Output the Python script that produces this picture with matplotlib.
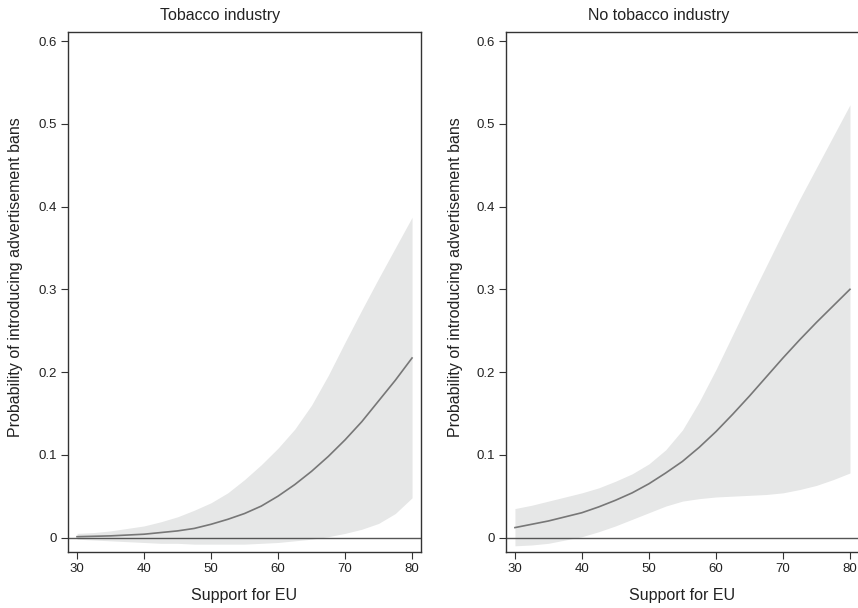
import matplotlib.pyplot as plt

plt.rcParams["font.family"] = ["Liberation Sans", "DejaVu Sans"]

# Support for EU (x values)
support = [30, 32.5, 35, 37.5, 40, 42.5, 45, 47.5, 50, 52.5, 55,
           57.5, 60, 62.5, 65, 67.5, 70, 72.5, 75, 77.5, 80]

# Panel 1: tobacco industry
tob_fit = [0.001, 0.0015, 0.002, 0.003, 0.004, 0.006, 0.008, 0.011, 0.016, 0.022, 0.029,
           0.038, 0.050, 0.064, 0.080, 0.098, 0.118, 0.140, 0.165, 0.190, 0.217]
tob_upper = [0.005, 0.006, 0.008, 0.011, 0.014, 0.019, 0.025, 0.033, 0.042, 0.054, 0.070,
             0.088, 0.108, 0.131, 0.160, 0.196, 0.236, 0.275, 0.313, 0.350, 0.387]
tob_lower = [-0.002, -0.003, -0.004, -0.005, -0.006, -0.007, -0.007, -0.008, -0.008, -0.008, -0.008,
             -0.007, -0.006, -0.004, -0.002, 0.001, 0.005, 0.010, 0.017, 0.029, 0.048]

# Panel 2: no tobacco industry
notob_fit = [0.012, 0.016, 0.020, 0.025, 0.030, 0.037, 0.045, 0.054, 0.065, 0.078, 0.092,
             0.109, 0.128, 0.149, 0.171, 0.194, 0.217, 0.239, 0.260, 0.280, 0.300]
notob_upper = [0.035, 0.039, 0.044, 0.049, 0.054, 0.060, 0.068, 0.077, 0.089, 0.106, 0.130,
               0.164, 0.203, 0.245, 0.287, 0.328, 0.369, 0.409, 0.447, 0.485, 0.523]
notob_lower = [-0.010, -0.009, -0.007, -0.003, 0.001, 0.007, 0.014, 0.022, 0.030, 0.038, 0.044,
               0.047, 0.049, 0.050, 0.051, 0.052, 0.054, 0.058, 0.063, 0.070, 0.078]

titles = ["Tobacco industry", "No tobacco industry"]
x_ticks = [30, 40, 50, 60, 70, 80]
y_ticks = [0, 0.1, 0.2, 0.3, 0.4, 0.5, 0.6]
y_ticklabels = ["0", "0.1", "0.2", "0.3", "0.4", "0.5", "0.6"]

fig = plt.figure(figsize=(8.58, 6.08), dpi=100)
ax1 = fig.add_axes([0.0793, 0.0921, 0.4114, 0.8553])
ax2 = fig.add_axes([0.5897, 0.0921, 0.4114, 0.8553])

panels = [
    (ax1, tob_fit, tob_lower, tob_upper, titles[0], -0.150),
    (ax2, notob_fit, notob_lower, notob_upper, titles[1], -0.144),
]

for ax, fit, lo, hi, title, ylab_x in panels:
    ax.fill_between(support, lo, hi, color="#e6e7e7", linewidth=0, zorder=1)
    ax.axhline(0, color="#555555", linewidth=1.0, zorder=2)
    ax.plot(support, fit, color="#777777", linewidth=1.2, zorder=3)

    ax.set_xlim(28.66, 81.34)
    ax.set_ylim(-0.0175, 0.611)
    ax.set_xticks(x_ticks)
    ax.set_yticks(y_ticks)
    ax.set_yticklabels(y_ticklabels)
    ax.tick_params(direction="out", length=5, width=0.8, color="#333333",
                   labelsize=9.5, labelcolor="#222222", pad=3)
    for sp in ax.spines.values():
        sp.set_color("#333333")
        sp.set_linewidth(1.0)

    ax.text(0.432, 1.017, title, transform=ax.transAxes, ha="center",
            va="bottom", fontsize=11.5, color="#222222")
    ax.set_xlabel("Support for EU", fontsize=11.5, color="#222222")
    ax.xaxis.set_label_coords(0.5, -0.069)
    ax.set_ylabel("Probability of introducing advertisement bans",
                  fontsize=11.5, color="#222222")
    ax.yaxis.label.set_va("center")
    ax.yaxis.set_label_coords(ylab_x, 0.528)

fig.savefig("out.png", dpi=100)
